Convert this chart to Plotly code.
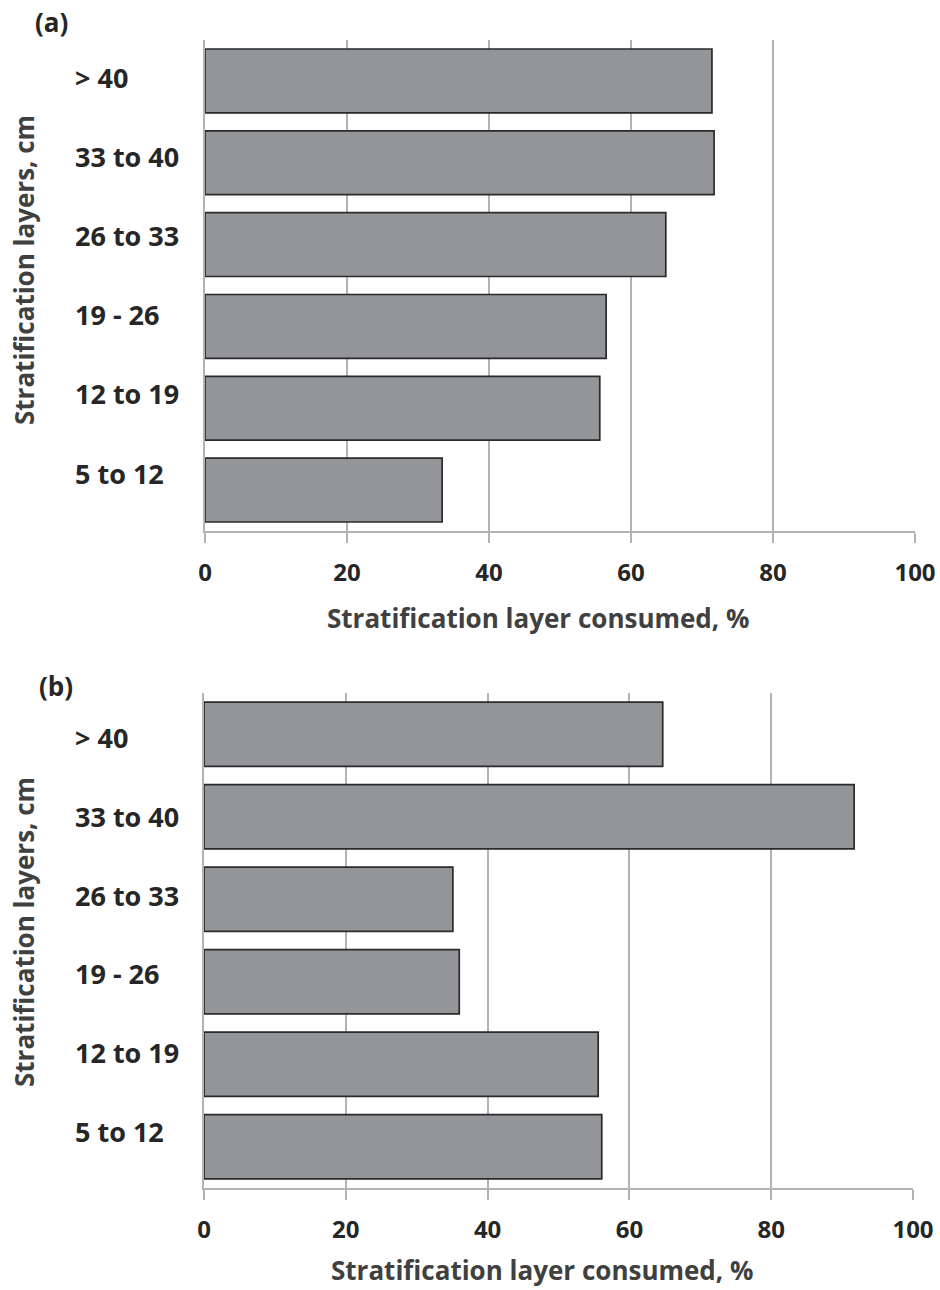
import plotly.graph_objects as go

# ---- data ----
layers = ["> 40", "33 to 40", "26 to 33", "19 - 26", "12 to 19", "5 to 12"]
consumed_a = [71.4, 71.7, 64.9, 56.5, 55.6, 33.4]
consumed_b = [64.7, 91.7, 35.1, 36.0, 55.6, 56.1]
x_ticks = [0, 20, 40, 60, 80, 100]
panel_labels = ["(a)", "(b)"]
x_title = "Stratification layer consumed, %"
y_title = "Stratification layers, cm"

W, H = 940, 1290
FONT = "Open Sans"
BAR_FILL = "#939598"
BAR_LINE = "#2a2a2a"
GRID = "#b3b3b3"
TXT = "#262626"
TXT2 = "#404040"

fig = go.Figure()
fig.add_trace(go.Bar(x=consumed_a, y=layers, orientation="h", xaxis="x", yaxis="y",
                     marker=dict(color=BAR_FILL, line=dict(color=BAR_LINE, width=1.7)),
                     showlegend=False, hoverinfo="x+y"))
fig.add_trace(go.Bar(x=consumed_b, y=layers, orientation="h", xaxis="x2", yaxis="y2",
                     marker=dict(color=BAR_FILL, line=dict(color=BAR_LINE, width=1.7)),
                     showlegend=False, hoverinfo="x+y"))

def xax(domain, anchor):
    return dict(domain=domain, anchor=anchor, range=[0, 100], tickvals=x_ticks,
                ticktext=[str(v) for v in x_ticks],
                showgrid=True, gridcolor=GRID, gridwidth=1.5,
                showline=True, linecolor=GRID, linewidth=1.5,
                ticks="outside", ticklen=10, tickwidth=1.5, tickcolor=GRID,
                ticklabelstandoff=9, automargin=False,
                tickfont=dict(family=FONT, size=24, color=TXT, weight=700),
                zeroline=False, fixedrange=True)

def yax(domain, anchor):
    return dict(domain=domain, anchor=anchor, categoryorder="array",
                categoryarray=layers, autorange="reversed",
                showticklabels=False, showgrid=False, ticks="", automargin=False,
                showline=True, linecolor=GRID, linewidth=1.5,
                zeroline=False, fixedrange=True)

# pixel geometry -> paper fractions
ax_a = dict(l=205, r=915, t=40, b=531)
ax_b = dict(l=204, r=913, t=693, b=1188)

def dom(g):
    return [g["l"] / W, g["r"] / W], [1 - g["b"] / H, 1 - g["t"] / H]

xa, ya = dom(ax_a)
xb, yb = dom(ax_b)

fig.update_layout(
    width=W, height=H, autosize=False,
    margin=dict(l=0, r=0, t=0, b=0, pad=0, autoexpand=False),
    paper_bgcolor="white", plot_bgcolor="white",
    bargap=0.22, showlegend=False,
    xaxis=xax(xa, "y"), yaxis=yax(ya, "x"),
    xaxis2=xax(xb, "y2"), yaxis2=yax(yb, "x2"),
)

ann = []
# left-aligned category labels (slight upward drift as in the original)
shifts = {"y": (3.5, 2.7), "y2": (-3.0, 3.6)}
for yref, (s0, ds) in shifts.items():
    for i, lab in enumerate(layers):
        ann.append(dict(text=lab, x=73 / W, xref="paper", xanchor="left",
                        y=lab, yref=yref, yanchor="middle", yshift=s0 + ds * i,
                        showarrow=False,
                        font=dict(family=FONT, size=27, color=TXT, weight=700)))

# panel labels
for lab, px, py in zip(panel_labels, [33, 37], [22, 686]):
    ann.append(dict(text=lab, x=px / W, y=1 - py / H, xref="paper", yref="paper",
                    xanchor="left", yanchor="middle", showarrow=False,
                    font=dict(family=FONT, size=26, color=TXT, weight=700)))

# axis titles
for cx, cy in [(538, 618), (542, 1270)]:
    ann.append(dict(text=x_title, x=cx / W, y=1 - cy / H, xref="paper", yref="paper",
                    xanchor="center", yanchor="middle", showarrow=False,
                    font=dict(family=FONT, size=26, color=TXT2, weight=700)))
for cx, cy in [(24, 270), (24, 932)]:
    ann.append(dict(text=y_title, x=cx / W, y=1 - cy / H, xref="paper", yref="paper",
                    xanchor="center", yanchor="middle", textangle=-90, showarrow=False,
                    font=dict(family=FONT, size=26, color=TXT2, weight=700)))

fig.update_layout(annotations=ann)
fig.write_html("out.html", config={"responsive": False, "displayModeBar": False},
               post_script="document.body.style.margin='0';document.body.style.overflow='hidden';")
